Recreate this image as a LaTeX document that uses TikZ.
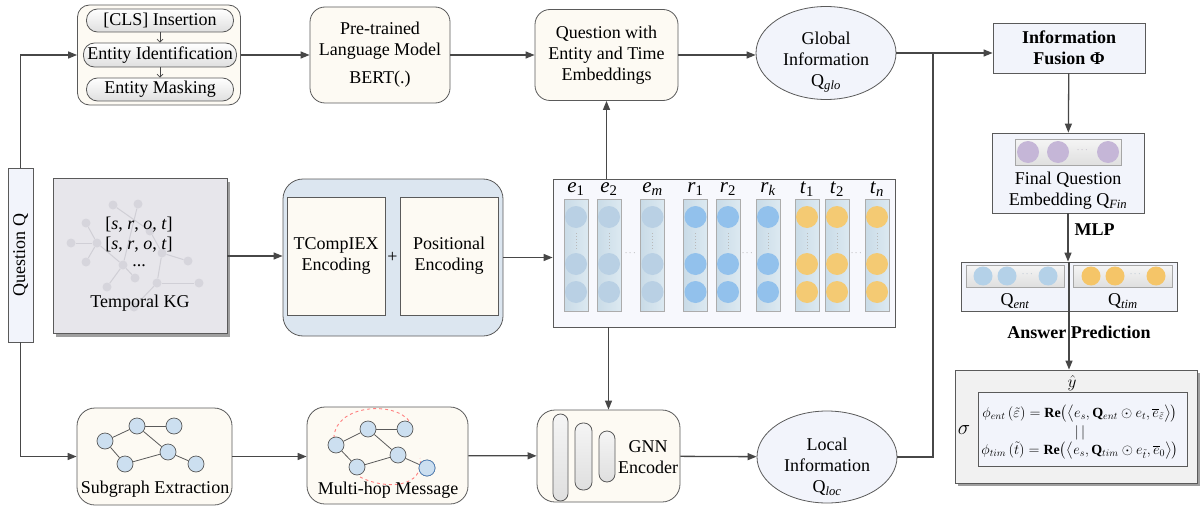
\documentclass[tikz,border=0pt]{standalone}
\usepackage{amsmath}
\usepackage{fontspec}
\setmainfont{Liberation Serif}
\usetikzlibrary{arrows.meta,shapes.geometric,shadows,positioning}

\definecolor{arrg}{HTML}{474747}
\definecolor{lineg}{HTML}{5A5A5A}
\definecolor{cream}{HTML}{FDFAF3}
\definecolor{lav}{HTML}{F2F4FB}
\definecolor{predg}{HTML}{F1F1F1}
\definecolor{kgg}{HTML}{E7E6EB}
\definecolor{encb}{HTML}{DCE6F0}
\definecolor{embf}{HTML}{F7F8FD}
\definecolor{colL}{HTML}{C9DBE7}
\definecolor{colR}{HTML}{DCE9F1}
\definecolor{entc}{HTML}{B9D0E4}
\definecolor{relc}{HTML}{92C1EC}
\definecolor{timc}{HTML}{F4CA73}
\definecolor{nodec}{HTML}{CCDFF0}
\definecolor{purc}{HTML}{C5B6D7}
\definecolor{qentc}{HTML}{B4D1E8}
\definecolor{qtimc}{HTML}{F5C568}
\definecolor{kgn}{HTML}{D6D5DC}
\definecolor{kge}{HTML}{D0CFD6}
\definecolor{hopb}{HTML}{4F7FB8}

\newcommand{\mainsz}{\fontsize{18}{21}\selectfont}

\begin{document}
\begin{tikzpicture}[x=1pt,y=-1pt,font=\mainsz,
    >={Triangle[length=9pt,width=7pt]},
    line/.style={draw=arrg, line width=1.3pt},
    arr/.style={line,->},
    small/.style={draw=arrg, line width=0.7pt, -{Straight Barb[length=3pt,width=6pt]}},
    rbox/.style={draw=lineg, line width=0.8pt, fill=cream, rounded corners=15pt, inner sep=0pt, align=center},
    sq/.style={draw=lineg, line width=0.8pt, fill=lav, inner sep=0pt, align=center},
    ell/.style={ellipse, draw=lineg, line width=0.8pt, fill=lav, minimum width=140, minimum height=93, inner sep=0pt},
    pill/.style={draw=lineg, line width=0.8pt, rounded corners=11pt, top color=white, bottom color=gray!25, inner sep=0pt},
    gbar/.style={draw=gray!70, line width=0.8pt, top color=gray!8, bottom color=gray!25, inner sep=0pt},
    col/.style={draw=gray!65, line width=1pt, left color=colL, right color=colR, minimum width=24, minimum height=112, inner sep=0pt},
    gn/.style={circle, draw=lineg, line width=0.7pt, fill=nodec, minimum size=16, inner sep=0pt},
    kn/.style={circle, fill=kgn, minimum size=9, inner sep=0pt},
    fml/.style={font=\fontsize{14}{16}\selectfont, inner sep=0pt},
    shade/.style={drop shadow={shadow xshift=3pt, shadow yshift=-3pt, fill=gray!75, opacity=1}}
  ]
  \useasboundingbox (0,0) rectangle (1201,508);

  \node[rbox, minimum width=163, minimum height=100, rounded corners=12pt] (prep) at (159,55) {};
  \node[pill, minimum width=147, minimum height=23] (cls) at (160,20.5) {[CLS] Insertion};
  \node[pill, minimum width=153, minimum height=24] (ident) at (160,55) {Entity Identification};
  \node[pill, minimum width=147, minimum height=23] (mask) at (160,89.5) {Entity Masking};
  \draw[small] (cls) -- (ident);
  \draw[small] (ident) -- (mask);

  \node[rbox, minimum width=140, minimum height=96] (bert) at (380,55) {Pre-trained\\Language Model\\[7pt]BERT(.)};
  \node[rbox, minimum width=143, minimum height=91] (qemb) at (606.5,55) {Question with\\Entity and Time\\Embeddings};
  \node[ell] (glo) at (826,53) {};
  \node[align=center] (glotxt) at (826,62) {Global\\Information\\Q\textsubscript{\itshape glo}};
  \node[sq, minimum width=152, minimum height=50, font=\mainsz\bfseries] (fus) at (1069,48) {Information\\Fusion Φ};

  \node[sq, minimum width=152, minimum height=80] (fin) at (1068,173) {};
  \node[gbar, minimum width=106, minimum height=26] (finbar) at (1068,152) {};
  \foreach \px in {1028,1058,1108} \fill[purc] (\px,152) circle (11);
  \node[text=purc!80!black, font=\small] (findots) at (1083,150) {$\cdots$};
  \node[align=center] (fintxt) at (1068,191) {Final Question\\Embedding Q\textsubscript{\itshape Fin}};
  \node[font=\mainsz\bfseries, anchor=west] (mlp) at (1071,230) {MLP};

  \node[sq, minimum width=216, minimum height=49] (qsplit) at (1069,286.5) {};
  \node[gbar, minimum width=98, minimum height=22] (entbar) at (1015,276) {};
  \node[gbar, minimum width=99, minimum height=22] (timbar) at (1122.5,276) {};
  \foreach \px in {983,1007,1048} \fill[qentc] (\px,276) circle (9.5);
  \foreach \px in {1091,1115,1156} \fill[qtimc] (\px,276) circle (9.5);
  \node[text=qentc!80!black, font=\small] (entdots) at (1028,274) {$\cdots$};
  \node[text=qentc!80!black, font=\small] (timdots) at (1136,274) {$\cdots$};
  \node (qent) at (1015,301) {Q\textsubscript{\itshape ent}};
  \node (qtim) at (1123,301) {Q\textsubscript{\itshape tim}};
  \node[font=\mainsz\bfseries] (ansp) at (1079,332) {Answer Prediction};

  \node[sq, fill=predg, minimum width=242, minimum height=113, shade] (pred) at (1076,426.5) {};
  \node[sq, minimum width=209, minimum height=74] (predin) at (1082.5,429) {};
  \node[font=\fontsize{17}{19}\selectfont] (yhat) at (1072,383) {$\hat{y}$};
  \node[font=\fontsize{22}{24}\selectfont] (sig) at (964,430) {$\sigma$};
  \node[fml] (score1) at (1080,414)
    {$\phi_{ent}\,(\tilde{\varepsilon})=\mathbf{Re}\big(\big\langle e_s,\mathbf{Q}_{ent}\odot e_t,\overline{e}_{\tilde{\varepsilon}}\big\rangle\big)$};
  \node[fml] (bars) at (1080,433) {$|\,|$};
  \node[fml] (score2) at (1080,451)
    {$\phi_{tim}\,(\tilde{t})=\mathbf{Re}\big(\big\langle e_s,\mathbf{Q}_{tim}\odot e_{\tilde{t}},\overline{e}_0\big\rangle\big)$};

  \node[sq, rotate=90, minimum width=174, minimum height=25] (quest) at (20.5,255) {Question Q};

  \node[sq, fill=kgg, minimum width=174, minimum height=155, shade] (kg) at (140,256) {};
  \foreach \kx/\ky [count=\i] in {113/205,138/204,86/223,71/243,97/243,150/231,162/253,188/261,86/262,123/265,135/278,107/287,157/283,199/283,134/307}
    \node[kn] (k\i) at (\kx,\ky) {};
  \foreach \a/\b in {4/5,3/5,5/9,2/10,1/6,6/7,7/8,7/13,10/11,10/12,13/14,13/15,5/10}
    \draw[kge, line width=1pt] (k\a) -- (k\b);
  \node (kgl1) at (139,225) {[\textit{s}, \textit{r}, \textit{o}, \textit{t}]};
  \node (kgl2) at (139,245) {[\textit{s}, \textit{r}, \textit{o}, \textit{t}]};
  \node (kgl3) at (139,266) {...};
  \node (kgname) at (140,303) {Temporal KG};

  \node[rbox, fill=encb, rounded corners=20pt, minimum width=220, minimum height=157] (enc) at (393,257.5) {};
  \node[sq, fill=cream, minimum width=98, minimum height=118] (tcx) at (336,256) {TCompIEX\\Encoding};
  \node[sq, fill=cream, minimum width=98, minimum height=118] (posenc) at (449,256) {Positional\\Encoding};
  \node (plus) at (392.5,257) {+};

  \node[sq, fill=embf, minimum width=342, minimum height=148] (emb) at (724,253) {};
  \foreach \cx/\v/\s/\cc [count=\i] in {576/e/1/entc,609/e/2/entc,652.5/e/{\itshape m}/entc,695.5/r/1/relc,728/r/2/relc,768/r/{\itshape k}/relc,807/t/1/timc,837/t/2/timc,877/t/{\itshape n}/timc} {
    \node[col] (col\i) at (\cx,255) {};
    \node[font=\fontsize{21}{22}\selectfont] (lab\i) at (\cx,189) {\textit{\v}\textsubscript{\s}};
    \foreach \cy in {217,264,292} \fill[\cc] (\cx,\cy) circle (11);
    \draw[gray!55, line width=1pt, dotted] (\cx,233) -- (\cx,250);
  }
  \node[text=gray, font=\small] (edots) at (631,253) {$\cdots$};
  \node[text=gray, font=\small] (rdots) at (748,253) {$\cdots$};
  \node[text=gray, font=\small] (tdots) at (857,253) {$\cdots$};

  \node[rbox, rounded corners=18pt, minimum width=155, minimum height=97] (sub) at (154.5,456.5) {};
  \foreach \gx/\gy [count=\i] in {105/441,137/426,174/426,125/464,168/452,196/464}
    \node[gn] (s\i) at (\gx,\gy) {};
  \foreach \a/\b in {1/2,2/3,1/4,4/5,2/5,5/6}
    \draw[lineg, line width=0.8pt] (s\a) -- (s\b);
  \node (subtxt) at (155,489) {Subgraph Extraction};

  \node[rbox, rounded corners=18pt, minimum width=161, minimum height=97] (hop) at (387.5,455.5) {};
  \draw[red!50, line width=0.9pt, dashed] (334,438) .. controls (334,405) and (395,400) .. (410,422);
  \draw[red!50, line width=0.9pt, dashed] (360,477) .. controls (385,490) and (425,488) .. (420,458);
  \foreach \gx/\gy [count=\i] in {336/445,368/429,405/429,357/467,398/455,427/468}
    \node[gn] (h\i) at (\gx,\gy) {};
  \node[gn, draw=hopb] at (h6) {};
  \foreach \a/\b in {1/2,2/3,1/4,4/5,2/5,5/6}
    \draw[lineg, line width=0.8pt] (h\a) -- (h\b);
  \node (hoptxt) at (388,490) {Multi-hop Message};

  \node[rbox, rounded corners=18pt, minimum width=143, minimum height=92] (gnn) at (608.5,456) {};
  \node[gbar, draw=lineg, rounded corners=7.5pt, minimum width=15, minimum height=87] (lay1) at (560.5,457.5) {};
  \node[gbar, draw=lineg, rounded corners=8pt, minimum width=17, minimum height=67] (lay2) at (583.5,456.5) {};
  \node[gbar, draw=lineg, rounded corners=8pt, minimum width=16, minimum height=51] (lay3) at (607,456.5) {};
  \node[align=center] (gnntxt) at (648,457) {GNN\\Encoder};

  \node[ell, minimum height=92] (loc) at (827,457) {};
  \node[align=center] (loctxt) at (827,467) {Local\\Information\\Q\textsubscript{\itshape loc}};

  \coordinate (mrg) at (933,53);
  \draw[arr] (quest.east) |- (prep.west);
  \draw[arr] (quest.west) |- (sub.west);
  \draw[arr] (prep) -- (bert);
  \draw[arr] (bert) -- (qemb);
  \draw[arr] (qemb.east) -- (qemb.east -| glo.west);
  \draw[arr] (glo.east) -- (glo.east -| fus.west);
  \draw[line] (loc.east) -| (mrg);
  \draw[arr] (fus) -- (fin);
  \draw[arr] (fin.south) -- (fin.south |- qsplit.north);
  \draw[arr] (qsplit.north) -- (qsplit.north |- pred.north);
  \draw[arr] (kg.east) -- (kg.east -| enc.west);
  \draw[arr] (enc.east) -- (enc.east -| emb.west);
  \draw[arr] (emb.north -| qemb.south) -- (qemb.south);
  \draw[arr] (emb.south -| gnn.north) -- (gnn.north);
  \draw[arr] (sub.east) -- (sub.east -| hop.west);
  \draw[arr] (hop) -- (gnn);
  \draw[arr] (gnn) -- (loc);
\end{tikzpicture}
\end{document}
